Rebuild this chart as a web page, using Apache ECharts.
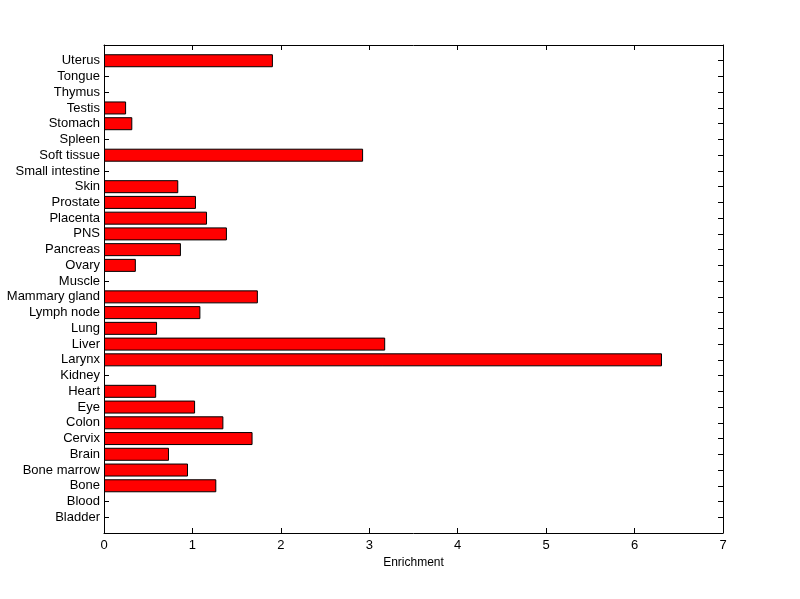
<!DOCTYPE html>
<html>
<head>
<meta charset="utf-8">
<script src="https://cdn.jsdelivr.net/npm/echarts@6/dist/echarts.min.js"></script>
<style>html,body{margin:0;padding:0;background:#fff}#c{width:800px;height:599px}</style>
</head>
<body>
<div id="c"></div>
<script>
const categories = ["Bladder","Blood","Bone","Bone marrow","Brain","Cervix","Colon","Eye","Heart","Kidney","Larynx","Liver","Lung","Lymph node","Mammary gland","Muscle","Ovary","Pancreas","PNS","Placenta","Prostate","Skin","Small intestine","Soft tissue","Spleen","Stomach","Testis","Thymus","Tongue","Uterus"];
const values = [0,0,1.27,0.95,0.735,1.68,1.35,1.03,0.59,0,6.31,3.18,0.60,1.09,1.74,0,0.36,0.87,1.39,1.165,1.04,0.84,0,2.93,0,0.32,0.25,0,0,1.91];
const xTicks = [0,1,2,3,4,5,6,7];
const xLabel = "Enrichment";

const yCats = [""].concat(categories, [""]);
const yData = [null].concat(values.map(v => v > 0 ? v : null), [null]);

const font = "'Liberation Sans', Arial, sans-serif";
const chart = echarts.init(document.getElementById('c'), null, {renderer:'canvas'});
const axisLine = {show:true, onZero:false, lineStyle:{color:'#000', width:1}};
const tick = {show:true, inside:true, length:5, lineStyle:{color:'#000', width:1}};
chart.setOption({
  animation:false,
  grid:{left:104, right:77, top:45, bottom:66, containLabel:false},
  xAxis:[{
    type:'value', min:xTicks[0], max:xTicks[xTicks.length-1], interval:1, position:'bottom',
    name:xLabel, nameLocation:'middle', nameGap:23,
    nameTextStyle:{color:'#000', fontFamily:font, fontSize:12},
    axisLine:axisLine, axisTick:tick,
    axisLabel:{color:'#000', fontFamily:font, fontSize:13, margin:6},
    splitLine:{show:false}
  },{
    type:'value', min:xTicks[0], max:xTicks[xTicks.length-1], interval:1, position:'top',
    axisLine:axisLine, axisTick:tick,
    axisLabel:{show:false}, splitLine:{show:false}
  }],
  yAxis:[{
    type:'category', data:yCats, boundaryGap:false, position:'left',
    axisLine:axisLine, axisTick:tick,
    axisLabel:{color:'#000', fontFamily:font, fontSize:13, margin:4, interval:0},
    splitLine:{show:false}
  },{
    type:'category', data:yCats, boundaryGap:false, position:'right',
    axisLine:axisLine, axisTick:tick,
    axisLabel:{show:false}, splitLine:{show:false}
  }],
  series:[{
    type:'bar', xAxisIndex:0, yAxisIndex:0, data:yData, barWidth:13,
    itemStyle:{color:'#ff0000', borderColor:'#000', borderWidth:1}
  }]
});
</script>
</body>
</html>
